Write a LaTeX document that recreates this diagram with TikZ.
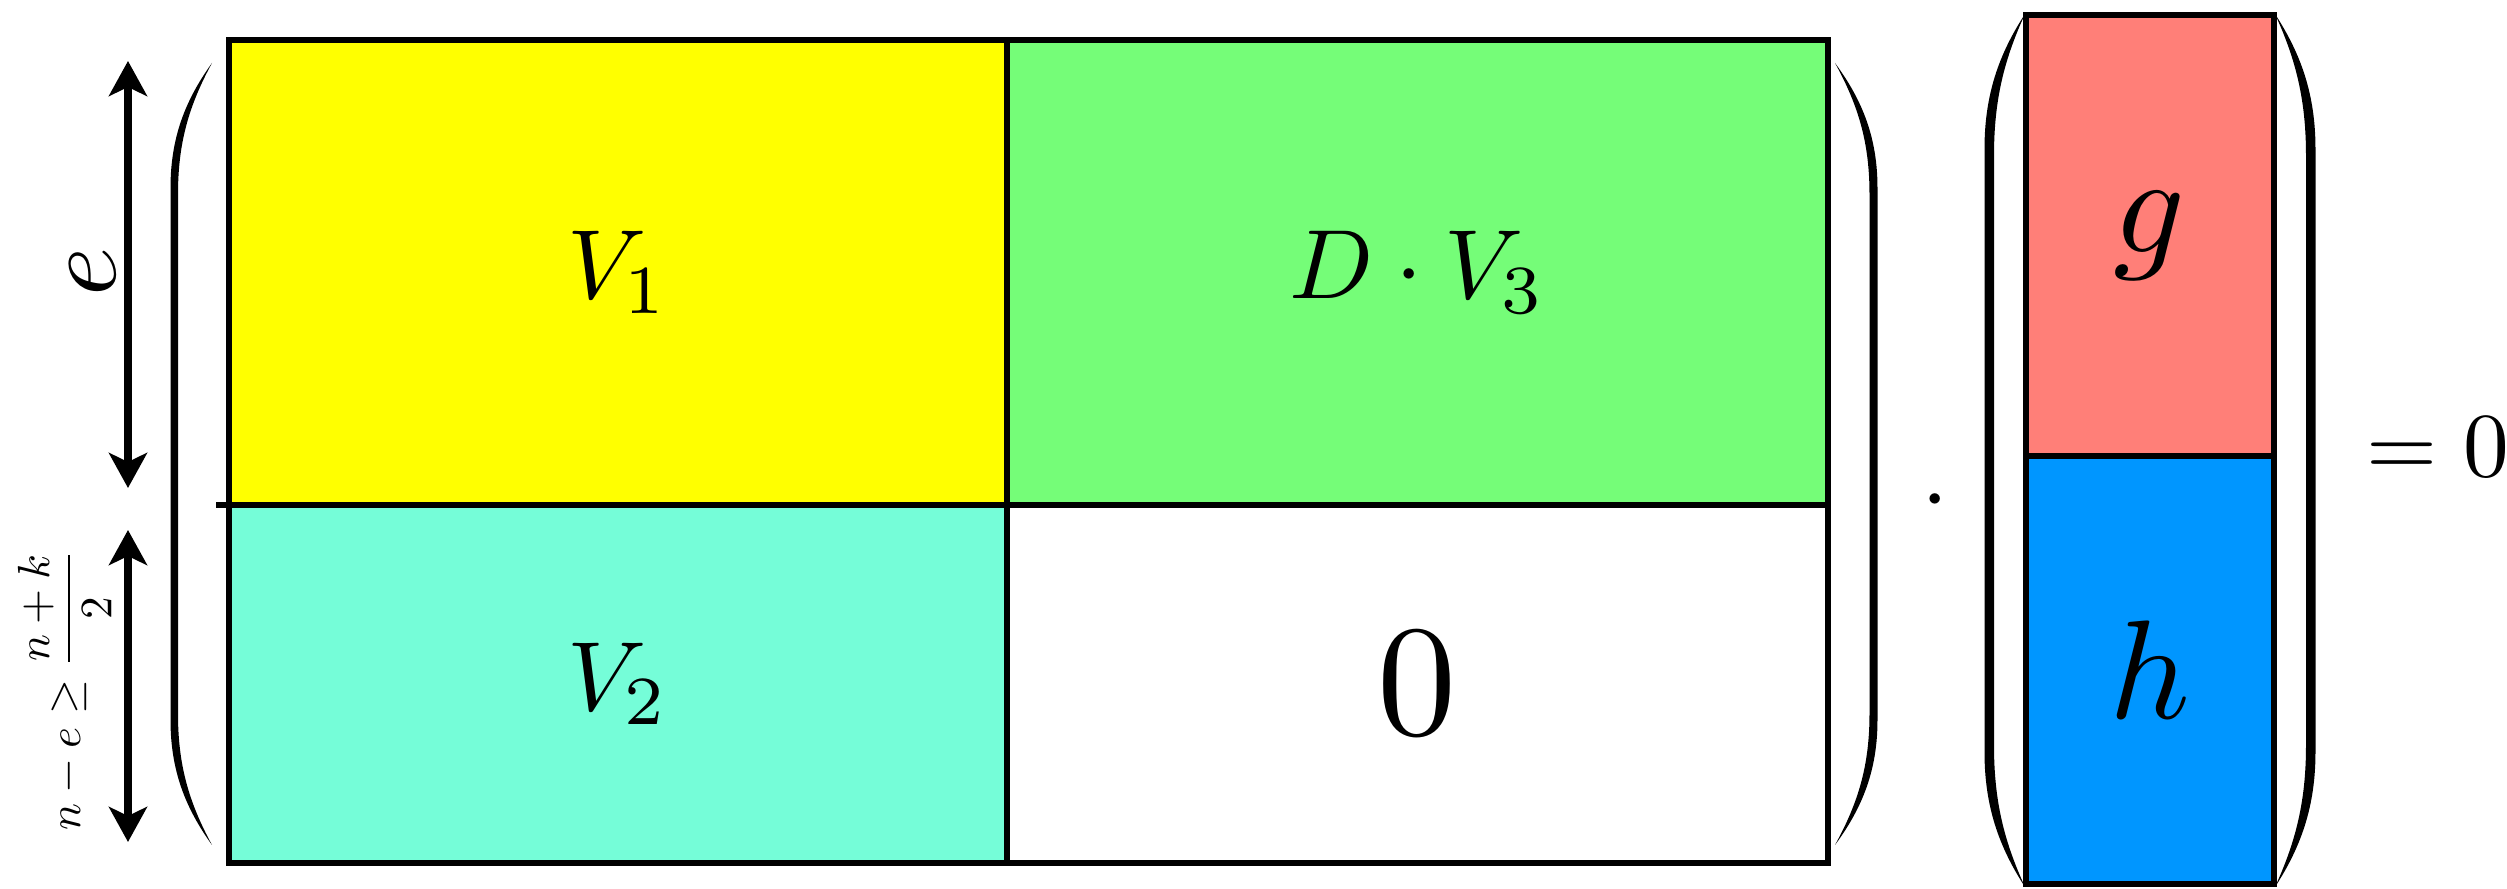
\documentclass[tikz,border=0pt]{standalone}
\usepackage{amsmath,amssymb,graphicx}
\usetikzlibrary{arrows.meta,positioning}

\definecolor{cellyellow}{RGB}{255,255,0}
\definecolor{cellgreen}{RGB}{117,253,120}
\definecolor{cellaqua}{RGB}{117,253,216}
\definecolor{vecred}{RGB}{255,127,120}
\definecolor{vecblue}{RGB}{0,150,255}

% scaled math, keeps the heavy look of the 10pt design size
\newcommand{\scaledmath}[2]{\scalebox{#1}{$#2$}}

% tip x, outer stem x, inner stem x, top y, bottom y, hook height
\newcommand{\bigparen}[6]{%
  \fill ({#1},{#4}) .. controls ({#2+0.35*(#1-#2)},{#4-0.3*#6}) and ({#2},{#4-0.6*#6}) .. ({#2},{#4-#6})
    -- ({#2},{#5+#6}) .. controls ({#2},{#5+0.6*#6}) and ({#2+0.35*(#1-#2)},{#5+0.3*#6}) .. ({#1},{#5})
    .. controls ({#3+0.3*(#1-#3)},{#5+0.35*#6}) and ({#3},{#5+0.65*#6}) .. ({#3},{#5+1.05*#6})
    -- ({#3},{#4-1.05*#6}) .. controls ({#3},{#4-0.65*#6}) and ({#3+0.3*(#1-#3)},{#4-0.35*#6}) .. ({#1},{#4})
    -- cycle;}

\begin{document}
\begin{tikzpicture}[>={Stealth[length=3.5mm,width=3.8mm,inset=0.9mm]},
    block/.style={draw,line width=1.6pt,inner sep=0pt,outer sep=0pt},
    dimarrow/.style={<->,line width=2.2pt}]
  \useasboundingbox (0,0) rectangle (25.07,8.89);

  % the matrix
  \node[block,fill=cellyellow,minimum width=7.78cm,minimum height=4.65cm] (v1) at (6.18,6.165) {\scaledmath{2.8}{V_1}};
  \node[block,fill=cellgreen,minimum width=8.21cm,minimum height=4.65cm,right=0pt of v1] (v3) {\scaledmath{2.8}{D\cdot V_3}};
  \node[block,fill=cellaqua,minimum width=7.78cm,minimum height=3.58cm,below=0pt of v1] (v2) {\scaledmath{2.8}{V_2}};
  \node[block,fill=white,minimum width=8.21cm,minimum height=3.58cm,below=0pt of v3] (zero) {\scaledmath{4.5}{0}};
  \draw[line width=1.6pt] (v2.north west) -- ++(-0.13,0);
  \bigparen{2.12}{1.705}{1.78}{8.26}{0.44}{1.25}
  \bigparen{18.35}{18.775}{18.695}{8.26}{0.44}{1.25}

  % the vector
  \node[block,fill=vecred,minimum width=2.48cm,minimum height=4.41cm] (g) at (21.5,6.535) {\scaledmath{4}{g}};
  \node[block,fill=vecblue,minimum width=2.48cm,minimum height=4.28cm,below=0pt of g] (h) {\scaledmath{4}{h}};
  \bigparen{20.25}{19.845}{19.94}{8.75}{0.02}{1.35}
  \bigparen{22.75}{23.155}{23.06}{8.75}{0.02}{1.35}

  \node[inner sep=0pt] (times) at (19.35,3.87) {\scaledmath{2.8}{\cdot}};
  \node[anchor=base west,inner sep=0pt] (eqzero) at (23.66,4.12) {\scaledmath{2.6}{=0}};

  % sizes on the left
  \coordinate (etop) at (1.28,8.28);
  \coordinate (ebot) at (1.28,4.01);
  \coordinate (rtop) at (1.28,3.59);
  \coordinate (rbot) at (1.28,0.47);
  \draw[dimarrow] (etop) -- (ebot);
  \draw[dimarrow] (rtop) -- (rbot);
  \node[rotate=90] (elabel) at (0.93,6.17) {\scaledmath{3}{e}};
  \node[rotate=90] (rlabel) at (0.65,1.99) {\scaledmath{1.28}{n-e\geq\dfrac{n+k}{2}}};
\end{tikzpicture}
\end{document}
